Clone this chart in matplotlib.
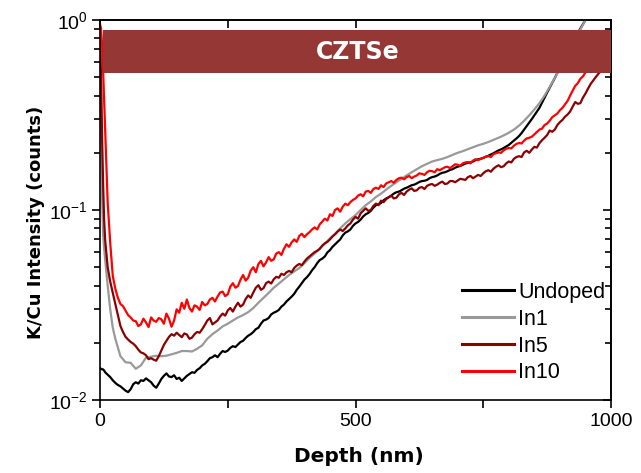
import matplotlib
matplotlib.use("Agg")
import matplotlib.pyplot as plt
from matplotlib.ticker import FixedLocator, FixedFormatter, LogLocator, NullFormatter

# Sputter depth grids (nm)
depth_start = [0, 2, 4, 6, 8, 10, 15, 20, 25]
depth_fine = depth_start + list(range(30, 1001, 5))
depth_undoped = depth_start + list(range(30, 961, 5))
depth_in1 = depth_start + list(range(30, 961, 10))

undoped = [0.0147, 0.0146, 0.0145, 0.0145, 0.0143, 0.0140, 0.0136, 0.0132, 0.0127,
           0.0123, 0.0120, 0.0118, 0.0115, 0.0112, 0.0110, 0.0114, 0.0121, 0.0124, 0.0122,
           0.0127, 0.0126, 0.0130, 0.0127, 0.0124, 0.0119, 0.0116, 0.0122, 0.0129, 0.0134,
           0.0138, 0.0133, 0.0132, 0.0135, 0.0129, 0.0131, 0.0126, 0.0130, 0.0134, 0.0137,
           0.0140, 0.0139, 0.0144, 0.0147, 0.0152, 0.0155, 0.0160, 0.0166, 0.0168, 0.0172,
           0.0168, 0.0175, 0.0181, 0.0179, 0.0182, 0.0188, 0.0192, 0.0190, 0.0196, 0.0202,
           0.0205, 0.0212, 0.0218, 0.0222, 0.0228, 0.0236, 0.0240, 0.0252, 0.0262, 0.0265,
           0.0270, 0.0282, 0.0288, 0.0292, 0.0298, 0.0310, 0.0318, 0.0330, 0.0340, 0.0350,
           0.0362, 0.0380, 0.0395, 0.0412, 0.0430, 0.0443, 0.0460, 0.0482, 0.0500, 0.0525,
           0.0545, 0.0555, 0.0570, 0.0598, 0.0615, 0.0640, 0.0660, 0.0680, 0.0700, 0.0735,
           0.0760, 0.0772, 0.0790, 0.0825, 0.0850, 0.0865, 0.0890, 0.0925, 0.0950, 0.0965,
           0.0990, 0.1030, 0.1060, 0.1070, 0.1090, 0.1125, 0.1150, 0.1165, 0.1190, 0.1220,
           0.1240, 0.1250, 0.1270, 0.1295, 0.1310, 0.1330, 0.1350, 0.1360, 0.1380, 0.1405,
           0.1420, 0.1425, 0.1440, 0.1470, 0.1490, 0.1500, 0.1520, 0.1550, 0.1570, 0.1580,
           0.1600, 0.1625, 0.1640, 0.1670, 0.1690, 0.1705, 0.1730, 0.1755, 0.1770, 0.1780,
           0.1800, 0.1830, 0.1850, 0.1860, 0.1880, 0.1905, 0.1930, 0.1960, 0.1990, 0.2025,
           0.2060, 0.2085, 0.2120, 0.2160, 0.2200, 0.2260, 0.2320, 0.2380, 0.2450, 0.2540,
           0.2650, 0.2760, 0.2880, 0.3010, 0.3150, 0.3290, 0.3450, 0.3670, 0.3900, 0.4150,
           0.4400, 0.4670, 0.4950, 0.5270, 0.5600, 0.5970, 0.6350, 0.6770, 0.7200, 0.7650,
           0.8100, 0.8550, 0.9000, 0.9500, 1.0000, 1.0600, 1.1200]

in1 = [0.95, 0.45, 0.12, 0.075, 0.063, 0.055, 0.040, 0.030, 0.024,
       0.0210, 0.0170, 0.0158, 0.0157, 0.0146, 0.0152, 0.0167, 0.0169, 0.0171, 0.0170,
       0.0171, 0.0174, 0.0177, 0.0181, 0.0181, 0.0180, 0.0186, 0.0194, 0.0210, 0.0222,
       0.0232, 0.0244, 0.0252, 0.0262, 0.0272, 0.0280, 0.0290, 0.0305, 0.0325, 0.0345,
       0.0366, 0.0390, 0.0410, 0.0432, 0.0455, 0.0475, 0.0495, 0.0525, 0.0560, 0.0590,
       0.0625, 0.0665, 0.0710, 0.0750, 0.0800, 0.0850, 0.0895, 0.0940, 0.1000, 0.1060,
       0.1110, 0.1170, 0.1220, 0.1280, 0.1340, 0.1400, 0.1460, 0.1520, 0.1580, 0.1640,
       0.1700, 0.1750, 0.1800, 0.1830, 0.1860, 0.1900, 0.1950, 0.2000, 0.2040, 0.2090,
       0.2140, 0.2190, 0.2230, 0.2280, 0.2340, 0.2400, 0.2470, 0.2550, 0.2650, 0.2780,
       0.2950, 0.3150, 0.3380, 0.3650, 0.4000, 0.4450, 0.4950, 0.5550, 0.6250, 0.7050,
       0.7900, 0.8900, 1.0000, 1.1200]

in5 = [0.80, 0.50, 0.25, 0.14, 0.09, 0.070, 0.050, 0.042, 0.0366,
       0.0320, 0.0280, 0.0245, 0.0228, 0.0215, 0.0208, 0.0202, 0.0198, 0.0192, 0.0184,
       0.0178, 0.0176, 0.0172, 0.0164, 0.0166, 0.0163, 0.0161, 0.0170, 0.0182, 0.0195,
       0.0205, 0.0215, 0.0222, 0.0218, 0.0226, 0.0220, 0.0214, 0.0224, 0.0221, 0.0210,
       0.0213, 0.0222, 0.0228, 0.0226, 0.0236, 0.0248, 0.0262, 0.0270, 0.0250, 0.0256,
       0.0262, 0.0275, 0.0285, 0.0278, 0.0296, 0.0305, 0.0292, 0.0310, 0.0325, 0.0310,
       0.0318, 0.0340, 0.0355, 0.0345, 0.0368, 0.0390, 0.0402, 0.0380, 0.0388, 0.0412,
       0.0420, 0.0410, 0.0432, 0.0445, 0.0440, 0.0462, 0.0455, 0.0470, 0.0478, 0.0470,
       0.0495, 0.0510, 0.0520, 0.0512, 0.0535, 0.0555, 0.0570, 0.0585, 0.0600, 0.0610,
       0.0625, 0.0650, 0.0668, 0.0680, 0.0700, 0.0725, 0.0745, 0.0770, 0.0790, 0.0775,
       0.0800, 0.0830, 0.0850, 0.0890, 0.0920, 0.0900, 0.0960, 0.0990, 0.1020, 0.0990,
       0.1000, 0.1050, 0.1080, 0.1060, 0.1120, 0.1100, 0.1140, 0.1170, 0.1190, 0.1150,
       0.1160, 0.1210, 0.1230, 0.1200, 0.1250, 0.1280, 0.1300, 0.1260, 0.1270, 0.1310,
       0.1320, 0.1290, 0.1340, 0.1360, 0.1370, 0.1340, 0.1360, 0.1390, 0.1410, 0.1370,
       0.1380, 0.1420, 0.1420, 0.1400, 0.1430, 0.1460, 0.1450, 0.1440, 0.1490, 0.1510,
       0.1470, 0.1500, 0.1530, 0.1510, 0.1560, 0.1600, 0.1620, 0.1590, 0.1650, 0.1690,
       0.1720, 0.1680, 0.1700, 0.1760, 0.1800, 0.1780, 0.1860, 0.1900, 0.1920, 0.1900,
       0.2010, 0.2050, 0.2000, 0.2080, 0.2150, 0.2130, 0.2250, 0.2330, 0.2400, 0.2480,
       0.2620, 0.2580, 0.2650, 0.2800, 0.2900, 0.2980, 0.3100, 0.3180, 0.3300, 0.3500,
       0.3700, 0.3620, 0.3650, 0.3900, 0.4100, 0.4350, 0.4600, 0.4800, 0.5000, 0.5200,
       0.5400, 0.5650, 0.5900, 0.6150, 0.6400]

in10 = [0.95, 0.90, 0.75, 0.55, 0.38, 0.27, 0.11, 0.067, 0.045,
        0.0385, 0.0345, 0.0320, 0.0312, 0.0295, 0.0280, 0.0272, 0.0262, 0.0260, 0.0245,
        0.0250, 0.0268, 0.0256, 0.0242, 0.0272, 0.0262, 0.0258, 0.0270, 0.0266, 0.0252,
        0.0285, 0.0268, 0.0243, 0.0262, 0.0300, 0.0288, 0.0325, 0.0302, 0.0338, 0.0305,
        0.0292, 0.0315, 0.0310, 0.0298, 0.0328, 0.0315, 0.0320, 0.0338, 0.0345, 0.0330,
        0.0350, 0.0368, 0.0372, 0.0352, 0.0360, 0.0395, 0.0412, 0.0390, 0.0398, 0.0430,
        0.0455, 0.0425, 0.0440, 0.0480, 0.0500, 0.0470, 0.0520, 0.0540, 0.0505, 0.0530,
        0.0565, 0.0540, 0.0550, 0.0590, 0.0600, 0.0580, 0.0625, 0.0660, 0.0640, 0.0675,
        0.0700, 0.0680, 0.0730, 0.0750, 0.0720, 0.0745, 0.0765, 0.0790, 0.0810, 0.0790,
        0.0840, 0.0870, 0.0900, 0.0880, 0.0950, 0.0930, 0.1000, 0.1020, 0.0980, 0.1040,
        0.1080, 0.1060, 0.1100, 0.1130, 0.1150, 0.1190, 0.1210, 0.1180, 0.1250, 0.1260,
        0.1230, 0.1290, 0.1310, 0.1290, 0.1350, 0.1320, 0.1380, 0.1400, 0.1420, 0.1390,
        0.1440, 0.1470, 0.1480, 0.1450, 0.1490, 0.1510, 0.1470, 0.1500, 0.1520, 0.1560,
        0.1550, 0.1530, 0.1580, 0.1610, 0.1600, 0.1580, 0.1640, 0.1620, 0.1650, 0.1680,
        0.1690, 0.1660, 0.1700, 0.1740, 0.1730, 0.1710, 0.1760, 0.1780, 0.1790, 0.1760,
        0.1820, 0.1850, 0.1830, 0.1860, 0.1880, 0.1910, 0.1920, 0.1900, 0.1970, 0.1990,
        0.2010, 0.2000, 0.2060, 0.2100, 0.2120, 0.2110, 0.2180, 0.2230, 0.2250, 0.2240,
        0.2320, 0.2380, 0.2400, 0.2430, 0.2500, 0.2570, 0.2650, 0.2680, 0.2800, 0.2850,
        0.2950, 0.3080, 0.3150, 0.3220, 0.3350, 0.3450, 0.3600, 0.3750, 0.4000, 0.4250,
        0.4500, 0.4650, 0.4900, 0.5050, 0.5300, 0.5550, 0.5800, 0.6100, 0.6400, 0.6700,
        0.7000, 0.7300, 0.7700, 0.8100, 0.8500]

series_labels = ["Undoped", "In1", "In5", "In10"]
series_colors = ["#000000", "#999999", "#8b0000", "#ff0000"]

# Absorber layer band (intensity range on the log axis)
band_low, band_high = 0.526, 0.886
band_label = "CZTSe"

x_major = [0, 500, 1000]
x_major_labels = ["0", "500", "1000"]
x_minor = [250, 750]
y_major = [0.01, 0.1, 1]
y_major_labels = [r"$10^{-2}$", r"$10^{-1}$", r"$10^{0}$"]

plt.rcParams["font.family"] = ["Liberation Sans", "DejaVu Sans"]
plt.rcParams["mathtext.default"] = "regular"

fig = plt.figure(figsize=(6.41, 4.73), dpi=100)
ax = fig.add_axes([100 / 641, 1 - 400 / 473, 511 / 641, 380 / 473])

series = [(depth_undoped, undoped), (depth_in1, in1), (depth_fine, in5), (depth_fine, in10)]
for (xs, vals), lab, col in zip(series, series_labels, series_colors):
    ax.plot(xs, vals, color=col, lw=1.6, label=lab, zorder=2)

ax.axhspan(band_low, band_high, xmin=0.006, xmax=1.0, color="#953735", lw=0, zorder=3)
ax.text(505, (band_low * band_high) ** 0.5, band_label, color="white",
        fontsize=17, fontweight="bold", family="DejaVu Sans",
        ha="center", va="center", zorder=4)

ax.set_yscale("log")
ax.set_xlim(0, 1000)
ax.set_ylim(0.01, 1)

ax.xaxis.set_major_locator(FixedLocator(x_major))
ax.xaxis.set_major_formatter(FixedFormatter(x_major_labels))
ax.xaxis.set_minor_locator(FixedLocator(x_minor))
ax.yaxis.set_major_locator(FixedLocator(y_major))
ax.yaxis.set_major_formatter(FixedFormatter(y_major_labels))
ax.yaxis.set_minor_locator(LogLocator(base=10, subs=range(2, 10)))
ax.yaxis.set_minor_formatter(NullFormatter())

ax.tick_params(axis="both", which="major", length=6, width=1.2, labelsize=14,
               direction="out", colors="black", pad=3)
ax.tick_params(axis="both", which="minor", length=6, width=1.2, direction="out")
ax.tick_params(axis="y", which="minor", length=4)

# mirrored ticks on top and right, pointing inward
axt = ax.secondary_xaxis("top")
axt.xaxis.set_major_locator(FixedLocator(x_major))
axt.xaxis.set_minor_locator(FixedLocator(x_minor))
axt.tick_params(which="both", direction="in", length=6, width=1.2, labeltop=False)
axr = ax.secondary_yaxis("right")
axr.set_yscale("log")
axr.yaxis.set_major_locator(FixedLocator(y_major))
axr.yaxis.set_minor_locator(LogLocator(base=10, subs=range(2, 10)))
axr.yaxis.set_minor_formatter(NullFormatter())
axr.tick_params(which="major", direction="in", length=6, width=1.2, labelright=False)
axr.tick_params(which="minor", direction="in", length=4, width=1.2)

for sp in list(ax.spines.values()) + [axt.spines["top"], axr.spines["right"]]:
    sp.set_linewidth(1.2)

ax.set_xlabel("Depth (nm)", fontsize=14.5, fontweight="bold", family="DejaVu Sans")
ax.xaxis.set_label_coords((359 - 100) / 511, -(447 - 400) / 380)
ax.set_ylabel("K/Cu Intensity (counts)", fontsize=13, fontweight="bold",
              family="DejaVu Sans")
ax.yaxis.set_label_coords((45 - 100) / 511, (400 - 222) / 380)

leg = ax.legend(loc="lower right", bbox_to_anchor=(1.006, 0.021), frameon=False,
                fontsize=15.5, handlelength=2.4, handletextpad=0.2, labelspacing=0.27,
                borderaxespad=0.0)
for line in leg.get_lines():
    line.set_linewidth(2.2)

fig.savefig("out.png", dpi=100, facecolor="white")
